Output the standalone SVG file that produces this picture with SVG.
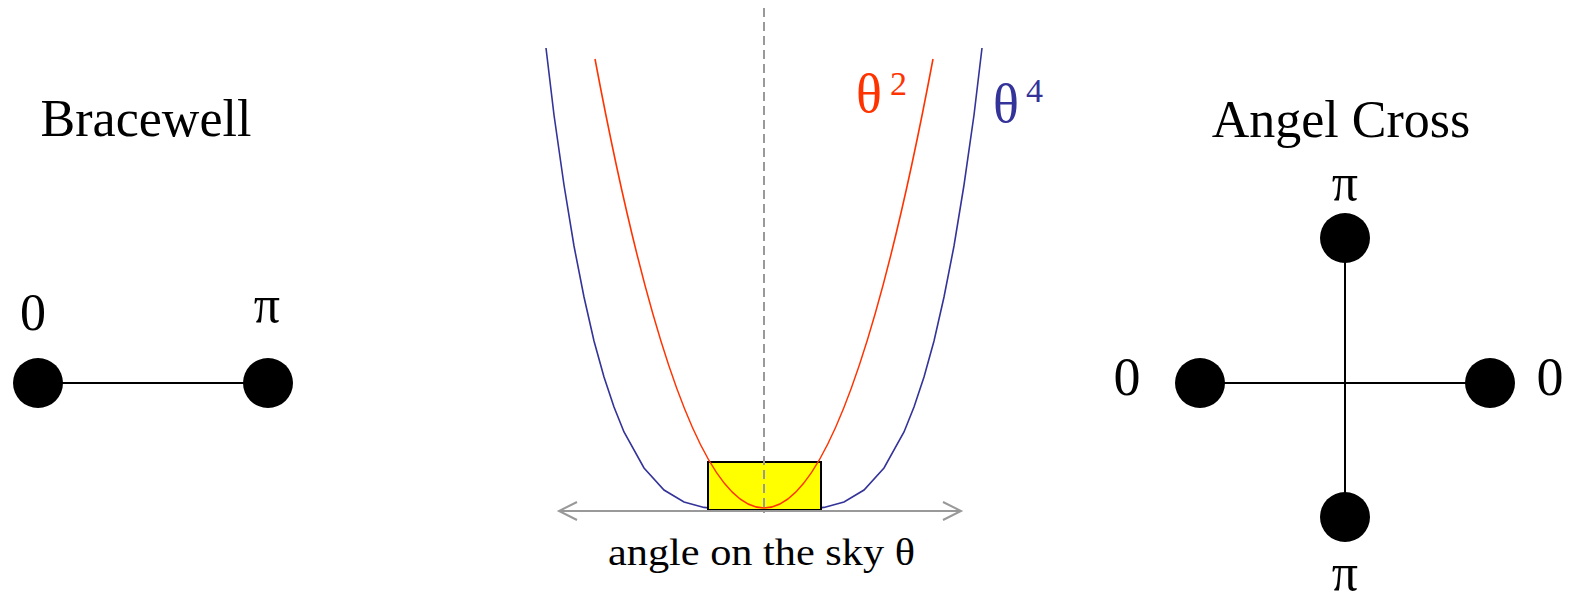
<svg xmlns="http://www.w3.org/2000/svg" width="1571" height="600" viewBox="0 0 1571 600">
<style>
.t{font-family:"Liberation Serif","Times New Roman",serif;fill:#000}
.node{fill:#000}
.edge{stroke:#000;stroke-width:2;fill:none}
.gray{stroke:#999;stroke-width:2;fill:none}
</style>
<rect width="1571" height="600" fill="#fff"/>
<g id="bracewell">
  <text class="t" x="146" y="136" font-size="52" text-anchor="middle">Bracewell</text>
  <g id="connectors-bracewell"><line class="edge" x1="38" y1="383" x2="268" y2="383"/></g>
  <g id="bw-node-0"><circle class="node" cx="38" cy="383" r="25"/><text class="t" x="33" y="330" font-size="52" text-anchor="middle">0</text></g>
  <g id="bw-node-pi"><circle class="node" cx="268" cy="383" r="25"/><text class="t" x="267" y="322" font-size="52" text-anchor="middle">π</text></g>
</g>
<g id="plot">
  <polyline fill="none" stroke="#333399" stroke-width="1.6" points="546,48 554,115 564,185 574,246 584,297 594,341 604,377 614,407 624,432 644,468 664,490 684,502 704,507.4 724,509.5 744,510 764,510 784,510 804,509.5 824,507.4 844,502 864,490 884,468 904,432 914,407 924,377 934,341 944,297 954,246 964,185 974,115 982,48"/>
  <rect x="708" y="462" width="113" height="48" fill="#ffff00" stroke="#000" stroke-width="2"/>
  <path d="M595,59 Q764,957 933,59" fill="none" stroke="#ff3300" stroke-width="1.6"/>
  <line x1="764" y1="8" x2="764" y2="513" stroke="#999" stroke-width="2" stroke-dasharray="9,5"/>
  <g id="axis">
    <line class="gray" x1="559" y1="511" x2="961" y2="511"/>
    <polyline class="gray" points="577,502 559,511 577,520"/>
    <polyline class="gray" points="943,502 961,511 943,520"/>
  </g>
  <text class="t" x="856" y="112" font-size="54" style="fill:#ff3300">θ</text>
  <text class="t" x="890" y="95" font-size="34" style="fill:#ff3300">2</text>
  <text class="t" x="993" y="122" font-size="54" style="fill:#333399">θ</text>
  <text class="t" x="1026" y="102" font-size="34" style="fill:#333399">4</text>
  <text class="t" x="608" y="565" font-size="37" textLength="307" lengthAdjust="spacingAndGlyphs">angle on the sky θ</text>
</g>
<g id="angelcross">
  <text class="t" x="1341" y="137" font-size="52" text-anchor="middle">Angel Cross</text>
  <g id="connectors-cross">
    <line class="edge" x1="1345" y1="238" x2="1345" y2="517"/>
    <line class="edge" x1="1200" y1="383" x2="1490" y2="383"/>
  </g>
  <g id="ac-top"><circle class="node" cx="1345" cy="238" r="25"/><text class="t" x="1345" y="200" font-size="52" text-anchor="middle">π</text></g>
  <g id="ac-left"><circle class="node" cx="1200" cy="383" r="25"/><text class="t" x="1127" y="395" font-size="54" text-anchor="middle">0</text></g>
  <g id="ac-right"><circle class="node" cx="1490" cy="383" r="25"/><text class="t" x="1550" y="395" font-size="54" text-anchor="middle">0</text></g>
  <g id="ac-bottom"><circle class="node" cx="1345" cy="517" r="25"/><text class="t" x="1345" y="590" font-size="52" text-anchor="middle">π</text></g>
</g>
</svg>
